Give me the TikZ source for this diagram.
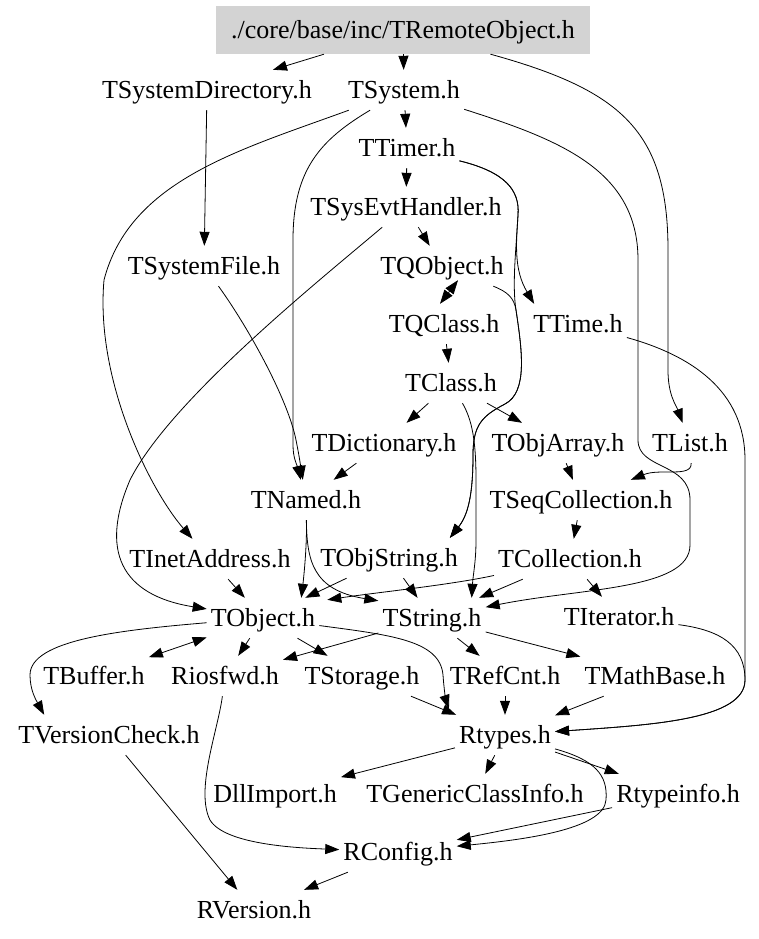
\documentclass[tikz,border=0pt]{standalone}
\usepackage{fontspec}
\setmainfont{Liberation Serif}
\usetikzlibrary{arrows.meta}
\definecolor{boxgray}{HTML}{D3D3D3}
\begin{document}
\begin{tikzpicture}[x=1pt,y=-1pt,
  file/.style={font=\fontsize{26}{30}\selectfont, inner xsep=4pt, inner ysep=0pt,
    text height=17pt, text depth=0pt, minimum height=40pt},
  edge/.style={line width=0.8pt, -{Triangle[length=14pt,width=10pt]}},
  both/.style={line width=0.8pt, {Triangle[length=14pt,width=10pt]}-{Triangle[length=14pt,width=10pt]}}]
\useasboundingbox (0,0) rectangle (759,939);
\fill[white] (0,0) rectangle (759,939);
\node[file, fill=boxgray, minimum width=374pt, minimum height=48pt] (trem) at (403,30) {./core/base/inc/TRemoteObject.h};
\node[file] (tsysdir) at (207,90) {TSystemDirectory.h};
\node[file] (tsystem) at (404,90) {TSystem.h};
\node[file] (ttimer) at (407,148) {TTimer.h};
\node[file] (tsysevt) at (406,207) {TSysEvtHandler.h};
\node[file] (tsysfile) at (204,266) {TSystemFile.h};
\node[file] (tqobject) at (442,266) {TQObject.h};
\node[file] (tqclass) at (444,324) {TQClass.h};
\node[file] (ttime) at (578,324) {TTime.h};
\node[file] (tclass) at (451,383) {TClass.h};
\node[file] (tdict) at (384,443) {TDictionary.h};
\node[file] (tobjarray) at (558,443) {TObjArray.h};
\node[file] (tlist) at (690,443) {TList.h};
\node[file] (tnamed) at (306,500) {TNamed.h};
\node[file] (tseqcoll) at (581,500) {TSeqCollection.h};
\node[file] (tinet) at (210,559) {TInetAddress.h};
\node[file] (tobjstring) at (389,558) {TObjString.h};
\node[file] (tcollection) at (570,559) {TCollection.h};
\node[file] (tobject) at (263,618) {TObject.h};
\node[file] (tstring) at (432,618) {TString.h};
\node[file] (titerator) at (619,617) {TIterator.h};
\node[file] (tbuffer) at (94,676) {TBuffer.h};
\node[file] (riosfwd) at (225,676) {Riosfwd.h};
\node[file] (tstorage) at (362,676) {TStorage.h};
\node[file] (trefcnt) at (505,676) {TRefCnt.h};
\node[file] (tmathbase) at (655,676) {TMathBase.h};
\node[file] (tversion) at (109,735) {TVersionCheck.h};
\node[file] (rtypes) at (505,735) {Rtypes.h};
\node[file] (dllimport) at (275,794) {DllImport.h};
\node[file] (tgeneric) at (475,794) {TGenericClassInfo.h};
\node[file] (rtypeinfo) at (678,794) {Rtypeinfo.h};
\node[file] (rconfig) at (398,852) {RConfig.h};
\node[file] (rversion) at (254,910) {RVersion.h};

\draw[edge] (trem) -- (tsysdir);
\draw[edge] (trem) -- (tsystem);
\draw[edge] (trem) .. controls (620,90) and (668,130) .. (668,250) -- (668,370) .. controls (668,395) and (676,405) .. (tlist);
\draw[edge] (tsysdir) -- (tsysfile);
\draw[edge] (tsystem) -- (ttimer);
\draw[edge] (tsystem) .. controls (240,150) and (130,180) .. (104,280) .. controls (95,380) and (150,490) .. (tinet);
\draw[edge] (tsystem) .. controls (320,140) and (293,170) .. (293,240) -- (293,445) .. controls (293,458) and (297,465) .. (tnamed);
\draw[edge] (tsystem) .. controls (560,140) and (638,170) .. (638,260) -- (638,440) .. controls (638,470) and (690,462) .. (690,500) -- (690,545) .. controls (690,590) and (580,588) .. (tstring);
\draw[edge] (tlist) .. controls (692,478) and (660,468) .. (tseqcoll);
\draw[edge] (ttimer) -- (tsysevt);
\draw[edge] (ttimer) .. controls (505,172) and (520,190) .. (518,215) .. controls (516,245) and (514,270) .. ([xshift=5pt]ttime.north west);
\draw[edge] (ttimer) .. controls (505,172) and (520,190) .. (518,215) .. controls (516,250) and (512,285) .. (516,310) .. controls (522,350) and (528,392) .. (505,404) .. controls (482,416) and (473,425) .. (473,455) .. controls (473,495) and (468,515) .. ([xshift=-12pt]tobjstring.north east);
\draw[edge] (tqobject) .. controls (508,292) and (514,298) .. (516,310) .. controls (522,350) and (528,392) .. (505,404) .. controls (482,416) and (473,425) .. (473,455) .. controls (473,495) and (468,515) .. ([xshift=-12pt]tobjstring.north east);
\draw[edge] (tsysevt) -- (tqobject);
\draw[edge] (tsysevt) .. controls (320,280) and (170,400) .. (130,480) .. controls (100,550) and (120,595) .. (tobject);
\draw[edge] (tsysfile) .. controls (250,330) and (288,400) .. (296,440) .. controls (299,455) and (300,462) .. (tnamed);
\draw[both] ([xshift=16pt,yshift=6pt]tqobject.south) -- ([xshift=-4pt]tqclass.north);
\draw[edge] (tqclass) -- (tclass);
\draw[edge] (tclass) -- (tdict);
\draw[edge] (tclass) -- (tobjarray);
\draw[edge] (tclass) .. controls (472,420) and (476,440) .. (476,480) -- (476,540) .. controls (476,562) and (473,575) .. ([xshift=-14pt]tstring.north east);
\draw[edge] (tobjarray) -- (tseqcoll);
\draw[edge] (tdict) -- (tnamed);
\draw[edge] (tnamed) .. controls (307,545) and (304,575) .. ([xshift=-18pt]tobject.north east);
\draw[edge] (tnamed) .. controls (307,560) and (312,590) .. ([yshift=-3pt]tstring.north west);
\draw[edge] (tinet) -- (tobject);
\draw[edge] (tobjstring) -- (tobject);
\draw[edge] (tobjstring) -- (tstring);
\draw[edge] (tcollection) .. controls (450,585) and (380,592) .. ([xshift=8pt,yshift=-2pt]tobject.north east);
\draw[edge] (tcollection) -- (tstring);
\draw[edge] (tcollection) -- (titerator);
\draw[edge] (tseqcoll) -- (tcollection);
\draw[both] (tobject) -- (tbuffer);
\draw[edge] (tobject) .. controls (120,630) and (30,640) .. (30,675) .. controls (30,690) and (36,700) .. ([xshift=30pt]tversion.north west);
\draw[edge] (tobject) -- (riosfwd);
\draw[edge] (tobject) -- (tstorage);
\draw[edge] (tobject) .. controls (390,635) and (440,640) .. (443,675) .. controls (444,690) and (446,700) .. ([xshift=-6pt,yshift=6pt]rtypes.north west);
\draw[edge] (tstorage) -- (rtypes);
\draw[edge] (tstring) -- (riosfwd);
\draw[edge] (tstring) -- (trefcnt);
\draw[edge] (tstring) -- (tmathbase);
\draw[edge] (trefcnt) -- (rtypes);
\draw[edge] (tmathbase) -- (rtypes);
\draw[edge] (ttime) .. controls (690,355) and (745,390) .. (745,460) -- (745,680) .. controls (745,720) and (650,725) .. (rtypes);
\draw[edge] (titerator) .. controls (720,630) and (745,645) .. (745,680) .. controls (745,720) and (650,725) .. (rtypes);
\draw[edge] (rtypes) -- (dllimport);
\draw[edge] (rtypes) -- (tgeneric);
\draw[edge] (rtypes) -- (rtypeinfo);
\draw[edge] (rtypes) .. controls (595,760) and (608,775) .. (606,800) .. controls (604,830) and (520,840) .. (rconfig);
\draw[edge] (rtypeinfo) -- (rconfig);
\draw[edge] (riosfwd) .. controls (218,730) and (195,790) .. (210,820) .. controls (225,845) and (300,848) .. (rconfig);
\draw[edge] (tversion) -- (rversion);
\draw[edge] (rconfig) -- (rversion);
\end{tikzpicture}
\end{document}
